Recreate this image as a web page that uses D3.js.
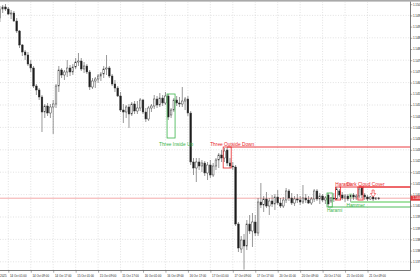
<!DOCTYPE html>
<html><head><meta charset="utf-8">
<script src="https://cdn.jsdelivr.net/npm/d3@7"></script>
<style>html,body{margin:0;padding:0;background:#fff;overflow:hidden}svg{display:block}</style>
</head><body><svg id="c" width="420" height="280"></svg>
<script>
// ---- data (H1 candles, bar index 0 = 13 Oct 22:00) ----
const open = [1.14970,1.15015,1.15025,1.15015,1.14990,1.14995,1.14955,1.14905,1.14835,1.14800,
1.14785,1.14740,1.14720,1.14630,1.14610,1.14575,1.14500,1.14530,1.14495,1.14525,
1.14540,1.14630,1.14710,1.14685,1.14700,1.14720,1.14700,1.14725,1.14750,1.14755,
1.14715,1.14730,1.14700,1.14625,1.14655,1.14665,1.14680,1.14690,1.14715,1.14720,
1.14680,1.14640,1.14620,1.14580,1.14510,1.14500,1.14525,1.14490,1.14540,1.14505,
1.14520,1.14560,1.14500,1.14465,1.14520,1.14530,1.14565,1.14535,1.14570,1.14545,
1.14580,1.14485,1.14510,1.14560,1.14545,1.14540,1.14555,1.14565,1.14495,1.14250,
1.14220,1.14250,1.14230,1.14245,1.14195,1.14235,1.14185,1.14230,1.14260,1.14285,
1.14270,1.14310,1.14245,1.14230,1.14225,1.13940,1.13815,1.13860,1.13830,1.13940,
1.13905,1.13950,1.13895,1.14050,1.14035,1.14065,1.14030,1.14055,1.14040,1.14075,
1.14045,1.14030,1.14060,1.14105,1.14070,1.14045,1.14065,1.14060,1.14050,1.14070,
1.14060,1.14045,1.14065,1.14105,1.14065,1.14080,1.14060,1.14085,1.14055,1.14070,
1.14065,1.14105,1.14085,1.14070,1.14080,1.14075,1.14085,1.14075,1.14080,1.14120,
1.14085,1.14075,1.14065,1.14075,1.14065,1.14070];
const high = [1.15030,1.15035,1.15040,1.15025,1.15010,1.15005,1.14970,1.14910,1.14840,1.14810,
1.14800,1.14760,1.14730,1.14640,1.14620,1.14585,1.14540,1.14545,1.14540,1.14560,
1.14640,1.14730,1.14720,1.14710,1.14760,1.14735,1.14740,1.14770,1.14795,1.14770,
1.14750,1.14740,1.14710,1.14670,1.14675,1.14690,1.14700,1.14730,1.14785,1.14730,
1.14690,1.14660,1.14630,1.14600,1.14540,1.14535,1.14540,1.14550,1.14555,1.14555,
1.14570,1.14565,1.14520,1.14530,1.14540,1.14585,1.14580,1.14595,1.14585,1.14600,
1.14590,1.14520,1.14570,1.14580,1.14575,1.14625,1.14575,1.14580,1.14505,1.14270,
1.14270,1.14270,1.14260,1.14255,1.14250,1.14260,1.14245,1.14270,1.14295,1.14310,
1.14320,1.14325,1.14270,1.14250,1.14235,1.13950,1.13880,1.13890,1.13960,1.13985,
1.13995,1.13985,1.14070,1.14145,1.14080,1.14100,1.14070,1.14085,1.14090,1.14110,
1.14070,1.14075,1.14120,1.14115,1.14095,1.14080,1.14090,1.14080,1.14135,1.14090,
1.14080,1.14075,1.14115,1.14115,1.14095,1.14090,1.14080,1.14095,1.14075,1.14095,
1.14125,1.14115,1.14100,1.14090,1.14090,1.14090,1.14095,1.14090,1.14125,1.14125,
1.14095,1.14085,1.14080,1.14080,1.14075,1.14075];
const low = [1.14950,1.14995,1.15005,1.14985,1.14965,1.14950,1.14895,1.14820,1.14780,1.14760,
1.14730,1.14700,1.14620,1.14585,1.14560,1.14400,1.14470,1.14480,1.14470,1.14390,
1.14520,1.14600,1.14670,1.14660,1.14675,1.14680,1.14685,1.14715,1.14730,1.14705,
1.14695,1.14690,1.14610,1.14615,1.14620,1.14645,1.14655,1.14670,1.14685,1.14670,
1.14630,1.14600,1.14575,1.14500,1.14445,1.14470,1.14420,1.14480,1.14490,1.14490,
1.14505,1.14490,1.14450,1.14455,1.14500,1.14515,1.14520,1.14525,1.14530,1.14535,
1.14460,1.14470,1.14500,1.14530,1.14525,1.14525,1.14510,1.14480,1.14235,1.14185,
1.14150,1.14210,1.14200,1.14180,1.14160,1.14170,1.14175,1.14210,1.14220,1.14250,
1.14250,1.14230,1.14220,1.14210,1.13930,1.13800,1.13795,1.13712,1.13810,1.13890,
1.13825,1.13880,1.13880,1.14020,1.14000,1.14020,1.13985,1.14025,1.14010,1.14035,
1.14020,1.14020,1.14045,1.14055,1.14035,1.14030,1.14045,1.14035,1.14040,1.14045,
1.14040,1.14035,1.14050,1.14055,1.14040,1.14050,1.14040,1.14025,1.14045,1.14050,
1.14060,1.14075,1.14060,1.14050,1.14055,1.14050,1.14060,1.14060,1.14070,1.14070,
1.14060,1.14055,1.14060,1.14055,1.14060,1.14060];
const close = [1.15015,1.15025,1.15015,1.14990,1.14995,1.14955,1.14905,1.14835,1.14800,1.14785,
1.14740,1.14720,1.14630,1.14610,1.14575,1.14500,1.14530,1.14495,1.14525,1.14540,
1.14630,1.14710,1.14685,1.14700,1.14720,1.14700,1.14725,1.14750,1.14755,1.14715,
1.14730,1.14700,1.14625,1.14655,1.14665,1.14680,1.14690,1.14715,1.14720,1.14680,
1.14640,1.14620,1.14580,1.14510,1.14500,1.14525,1.14490,1.14540,1.14505,1.14520,
1.14560,1.14500,1.14465,1.14520,1.14530,1.14565,1.14535,1.14570,1.14545,1.14580,
1.14475,1.14510,1.14560,1.14545,1.14540,1.14555,1.14565,1.14495,1.14250,1.14220,
1.14250,1.14230,1.14245,1.14195,1.14235,1.14185,1.14230,1.14260,1.14285,1.14270,
1.14305,1.14245,1.14230,1.14225,1.13940,1.13820,1.13860,1.13830,1.13940,1.13905,
1.13950,1.13895,1.14050,1.14035,1.14065,1.14030,1.14055,1.14040,1.14075,1.14045,
1.14030,1.14060,1.14105,1.14070,1.14045,1.14065,1.14060,1.14050,1.14070,1.14060,
1.14045,1.14065,1.14105,1.14065,1.14080,1.14060,1.14070,1.14040,1.14070,1.14065,
1.14115,1.14085,1.14070,1.14080,1.14065,1.14085,1.14075,1.14080,1.14115,1.14085,
1.14075,1.14065,1.14075,1.14065,1.14070,1.14069];

const timeTickBars = [3,11,19,27,35,43,51,59,67,75,83,91,99,107,115,123,131];
const timeTickLabels = ["14 Oct 01:00","14 Oct 09:00","14 Oct 17:00","15 Oct 01:00","15 Oct 09:00","15 Oct 17:00",
"16 Oct 01:00","16 Oct 09:00","16 Oct 17:00","17 Oct 01:00","17 Oct 09:00","17 Oct 17:00",
"20 Oct 01:00","20 Oct 09:00","20 Oct 17:00","21 Oct 01:00","21 Oct 09:00"];
const firstDateLabel = "13 Oct 2025";
const priceTicks = [1.15039,1.14983,1.14927,1.14871,1.14815,1.14759,1.14703,1.14647,1.14591,1.14535,
1.14479,1.14423,1.14367,1.14311,1.14255,1.14199,1.14143,1.14087,1.14031,1.13975,1.13919,1.13863,1.13807,1.13751];
const bidPrice = 1.14069;

const patternNames = ["Three Inside Up","Three Outside Down","Harami","Hammer","Harami","Dark Cloud Cover"];
const patternSide = ["bull","bear","bull","bull","bear","bear"];
const patternStart = [60,80,117,125,120,128];
const patternEnd = [62,82,118,125,121,129];
const patternTop = [1.14590,1.14325,1.14095,1.14090,1.14125,1.14125];
const patternBottom = [1.14370,1.14220,1.14025,1.14070,1.14060,1.14060];
const patternLevel = [null,1.14325,1.14025,1.14050,1.14125,1.14125];
const patternLevelFrom = [null,81,117,125,121,128];
const arrowBar = 133, arrowPrice = 1.14110;

// ---- drawing ----
const svg = d3.select("#c");
const FONT = "'Liberation Sans', Arial, sans-serif";
const plotR = 410.5, plotB = 270.5;
const x = d3.scaleLinear().domain([3, 131]).range([8.3, 367.5]);
const y = d3.scaleLinear().domain([1.13710, 1.15060]).range([270, 0]);

svg.append("rect").attr("width",420).attr("height",280).attr("fill","#fff");
svg.append("rect").attr("x",0).attr("y",0).attr("width",420).attr("height",1.6).attr("fill","#a9a9a9");

// grid
const grid = svg.append("g").attr("stroke","#cfcfcf").attr("stroke-width",0.6).attr("stroke-dasharray","1,1.6");
grid.selectAll("line.v").data(timeTickBars).join("line")
  .attr("x1",d=>x(d)).attr("x2",d=>x(d)).attr("y1",1.6).attr("y2",plotB);
grid.selectAll("line.h").data(priceTicks.filter((d,i)=>i%2===1)).join("line")
  .attr("x1",0).attr("x2",plotR).attr("y1",d=>y(d)).attr("y2",d=>y(d));

// bid line
svg.append("line").attr("x1",0).attr("x2",plotR).attr("y1",y(bidPrice)).attr("y2",y(bidPrice))
  .attr("stroke","#f2a0a0").attr("stroke-width",0.9);

// candles
const n = Math.min(open.length, high.length, low.length, close.length);
const idx = d3.range(n);
const cg = svg.append("g");
cg.selectAll("line.w").data(idx).join("line")
  .attr("x1",i=>x(i)).attr("x2",i=>x(i)).attr("y1",i=>y(high[i])).attr("y2",i=>y(low[i]))
  .attr("stroke","#444").attr("stroke-width",0.55);
const bw = 1.7;
cg.selectAll("rect.b").data(idx).join("rect")
  .attr("x",i=>x(i)-bw/2).attr("width",bw)
  .attr("y",i=>y(Math.max(open[i],close[i])))
  .attr("height",i=>Math.max(0.6, Math.abs(y(open[i])-y(close[i]))))
  .attr("fill",i=>close[i]>=open[i]?"#fff":"#1c1c1c")
  .attr("stroke","#333").attr("stroke-width",0.45);

// patterns
const GREEN="#3cb44b", LGREEN="#a6e3a6", RED="#e8262a";
const pg = svg.append("g");
patternNames.forEach((name,k)=>{
  const bull = patternSide[k]==="bull";
  const light = name==="Hammer";
  const col = bull ? (light?LGREEN:GREEN) : RED;
  const x0 = x(patternStart[k])-1.2, x1 = x(patternEnd[k])+1.2;
  pg.append("rect").attr("x",x0).attr("width",x1-x0)
    .attr("y",y(patternTop[k])).attr("height",y(patternBottom[k])-y(patternTop[k]))
    .attr("fill","none").attr("stroke",col).attr("stroke-width",0.8);
  if (patternLevel[k]!==null){
    pg.append("line").attr("x1",x(patternLevelFrom[k])).attr("x2",plotR)
      .attr("y1",y(patternLevel[k])).attr("y2",y(patternLevel[k]))
      .attr("stroke",col).attr("stroke-width",light?1.8:0.9);
  }
  const cx = (x0+x1)/2 + 5;
  const ty = bull ? (patternLevel[k]!==null ? y(patternLevel[k])+5 : y(patternBottom[k])+7.5)
                  : y(patternTop[k])-1.5;
  pg.append("text").attr("x",cx).attr("y",ty).attr("text-anchor","middle")
    .attr("font-family",FONT).attr("font-size",4.8).attr("fill",bull?GREEN:RED).text(name);
});
// signal arrow
const ax = x(arrowBar), ay = y(arrowPrice);
pg.append("path")
  .attr("d",`M${ax-1},${ay}L${ax+1},${ay}L${ax+1},${ay+3.5}L${ax+2.6},${ay+3.5}L${ax},${ay+7}L${ax-2.6},${ay+3.5}L${ax-1},${ay+3.5}Z`)
  .attr("fill","#fff").attr("stroke",RED).attr("stroke-width",0.6);

// right price axis
const yAxis = d3.axisRight(y).tickValues(priceTicks).tickSize(1.8).tickPadding(0.6).tickFormat(d3.format(".5f"));
const ya = svg.append("g").attr("transform",`translate(${plotR},0)`).call(yAxis);
ya.select(".domain").attr("stroke","#555").attr("stroke-width",0.8).attr("d",`M0,1.6V${plotB}`);
ya.selectAll(".tick line").attr("stroke","#555").attr("stroke-width",0.5);
ya.selectAll("text").attr("font-family",FONT).attr("font-size",2.9).attr("fill","#222");

// bid label
const by = y(bidPrice);
svg.append("rect").attr("x",plotR).attr("y",by-2.5).attr("width",420-plotR).attr("height",5).attr("fill","#e23b3b");
svg.append("text").attr("x",plotR+2.3).attr("y",by+1).attr("font-family",FONT).attr("font-size",2.9)
  .attr("fill","#fff").text(d3.format(".5f")(bidPrice));

// bottom time axis
const xAxis = d3.axisBottom(x).tickValues(timeTickBars).tickSize(2.2).tickPadding(0)
  .tickFormat((d,i)=>timeTickLabels[i]);
const xa = svg.append("g").attr("transform",`translate(0,${plotB})`).call(xAxis);
xa.select(".domain").attr("stroke","#555").attr("stroke-width",0.8).attr("d",`M0,0H${plotR}`);
xa.selectAll(".tick line").attr("stroke","#555").attr("stroke-width",0.5);
xa.selectAll("text").attr("font-family",FONT).attr("font-size",2.9).attr("fill","#222")
  .attr("text-anchor","start").attr("dx",1.2).attr("dy",0).attr("y",6.5);
svg.append("text").attr("x",6.5).attr("y",plotB+6.5).attr("text-anchor","end")
  .attr("font-family",FONT).attr("font-size",2.9).attr("fill","#222").text(firstDateLabel);
</script></body></html>
